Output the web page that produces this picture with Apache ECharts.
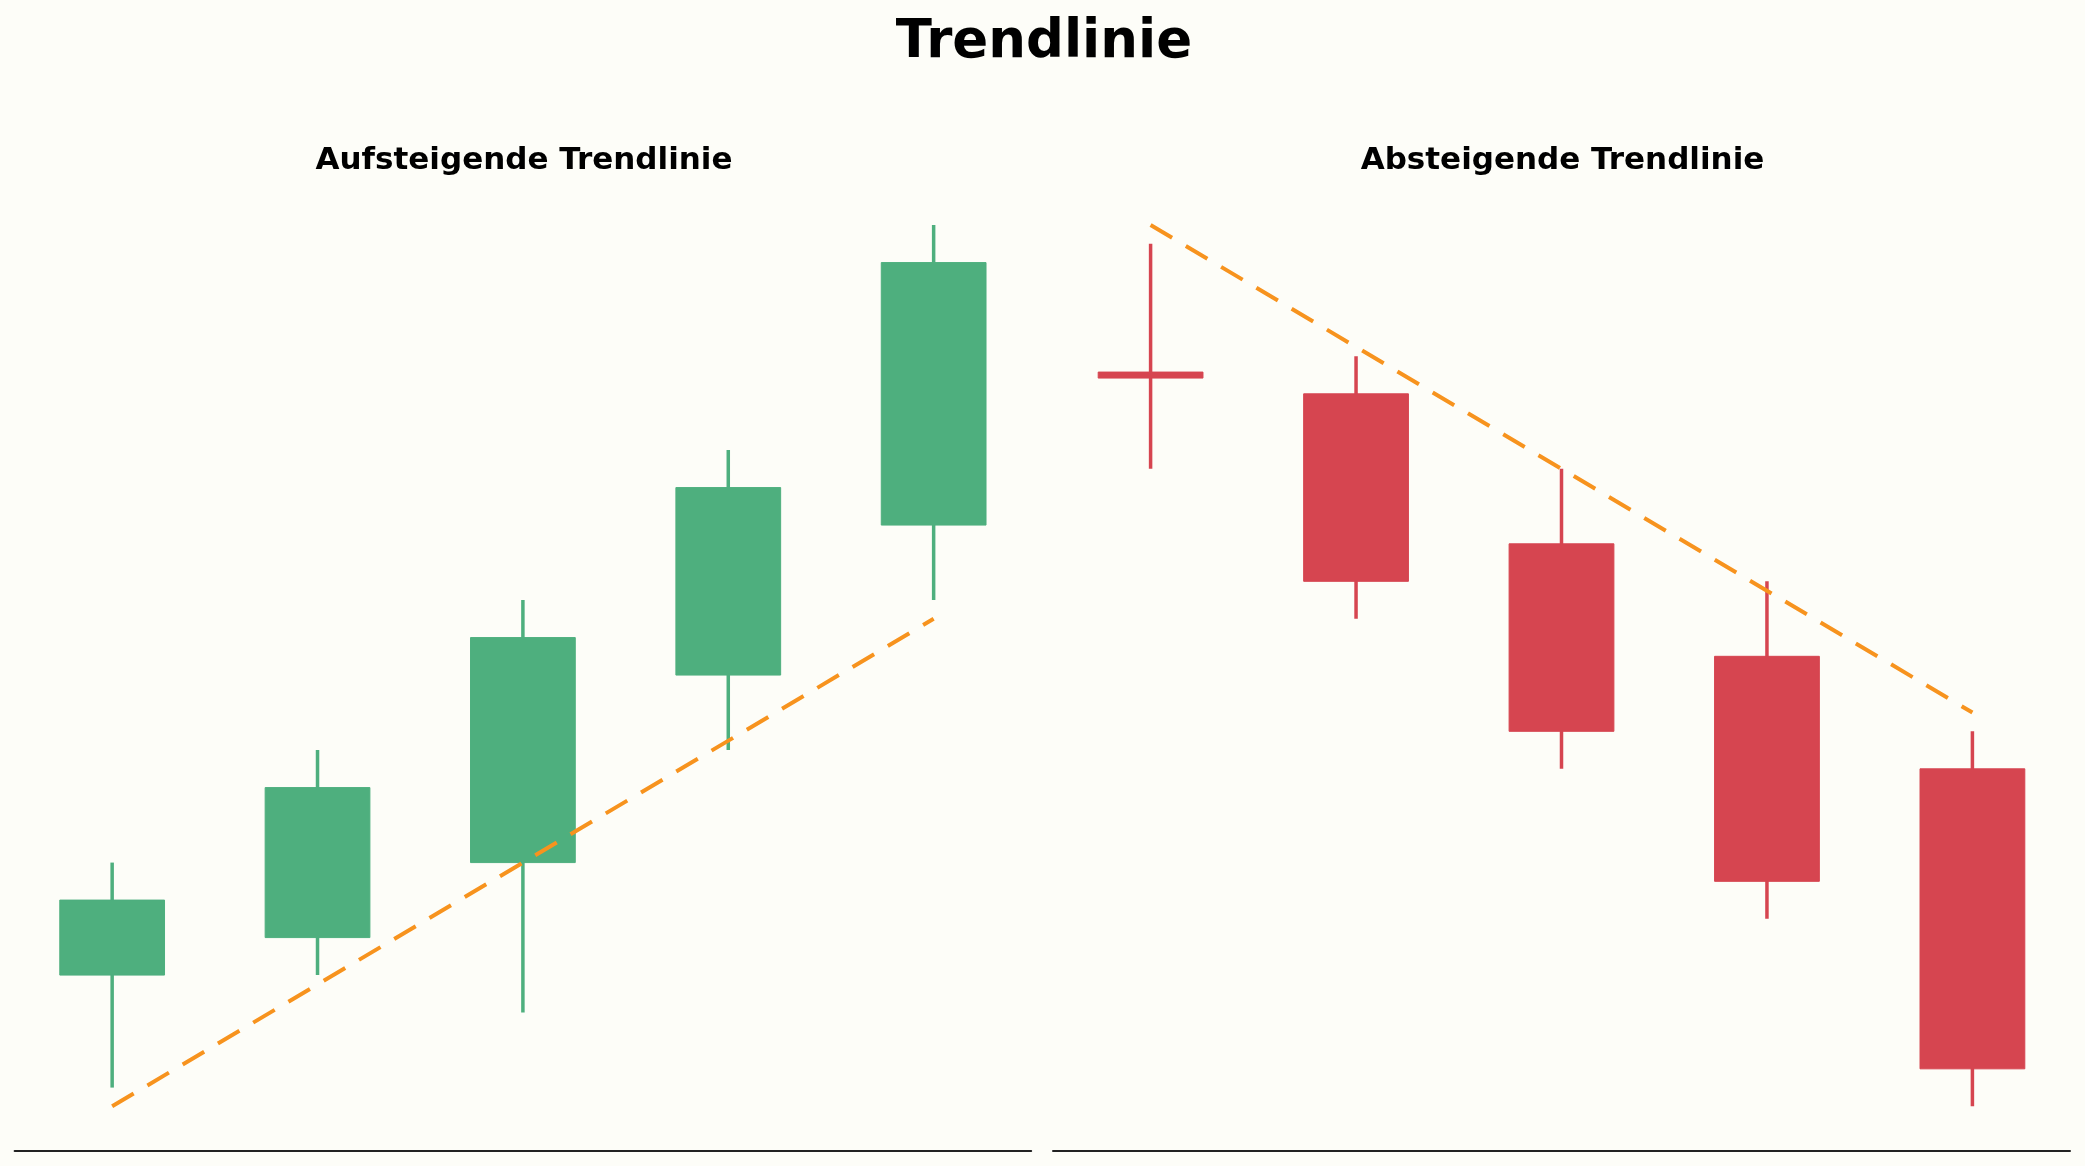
<!DOCTYPE html>
<html>
<head>
<meta charset="utf-8">
<script src="https://cdn.jsdelivr.net/npm/echarts@6/dist/echarts.min.js"></script>
<style>
  html, body { margin: 0; padding: 0; background: #FDFDF8; }
  #chart { width: 2085px; height: 1166px; }
</style>
</head>
<body>
<div id="chart"></div>
<script>
// ---- data ----
const candleIndex = [0, 1, 2, 3, 4];

const upOpen  = [4, 5, 7, 12, 16];
const upClose = [6, 9, 13, 17, 23];
const upLow   = [1, 4, 3, 10, 14];
const upHigh  = [7, 10, 14, 18, 24];

const downOpen  = [20, 19.5, 15.5, 12.5, 9.5];
const downClose = [20, 14.5, 10.5, 6.5, 1.5];
const downLow   = [17.5, 13.5, 9.5, 5.5, 0.5];
const downHigh  = [23.5, 20.5, 17.5, 14.5, 10.5];

const trendX = [0, 4];
const upTrendY = [0.5, 13.5];
const downTrendY = [24, 11];

const mainTitle = 'Trendlinie';
const leftTitle = 'Aufsteigende Trendlinie';
const rightTitle = 'Absteigende Trendlinie';

// ---- styles ----
const GREEN = '#4EAF7E';
const RED = '#D64550';
const ORANGE = '#F7931E';
const BODY_W = 0.51;
const FONT = 'DejaVu Sans';

function buildCandles(o, c, l, h) {
  return candleIndex.map((x, i) => [x, o[i], c[i], l[i], h[i]]);
}
function buildTrend(ys) {
  return trendX.map((x, i) => [x, ys[i]]);
}

function renderCandle(params, api) {
  const x = api.value(0), o = api.value(1), c = api.value(2), l = api.value(3), h = api.value(4);
  const color = c > o ? GREEN : RED;
  const pO = api.coord([x, o]);
  const pC = api.coord([x, c]);
  const pL = api.coord([x, l]);
  const pH = api.coord([x, h]);
  const w = api.size([BODY_W, 0])[0];
  const top = Math.min(pO[1], pC[1]);
  let hgt = Math.abs(pO[1] - pC[1]);
  let y0 = top;
  if (hgt < 6) { y0 = (pO[1] + pC[1]) / 2 - 3; hgt = 6; }
  return {
    type: 'group',
    children: [
      { type: 'line', shape: { x1: pH[0], y1: pH[1], x2: pL[0], y2: pL[1] },
        style: { stroke: color, lineWidth: 3.5 } },
      { type: 'rect', shape: { x: pO[0] - w / 2, y: y0, width: w, height: hgt },
        style: { fill: color, stroke: color, lineWidth: 1 } }
    ]
  };
}

const yMin = -0.675, yMax = 25.175;

const grids = [
  { left: 14.6, top: 181, width: 1016.6, height: 969.4 },
  { left: 1053, top: 181, width: 1017, height: 969.4 }
];

function xAxisFor(gi) {
  return {
    gridIndex: gi, type: 'value', min: -0.475, max: 4.475,
    axisLine: { show: true, onZero: false, lineStyle: { color: '#222222', width: 2 } },
    axisTick: { show: false }, axisLabel: { show: false }, splitLine: { show: false }
  };
}
function yAxisFor(gi) {
  return {
    gridIndex: gi, type: 'value', min: yMin, max: yMax,
    axisLine: { show: false }, axisTick: { show: false }, axisLabel: { show: false }, splitLine: { show: false }
  };
}

function trendSeries(gi, ys) {
  return {
    type: 'line', xAxisIndex: gi, yAxisIndex: gi, data: buildTrend(ys),
    showSymbol: false, symbol: 'none', silent: true,
    lineStyle: { color: ORANGE, width: 4, type: [25, 16], cap: 'butt' },
    z: 5, animation: false
  };
}
function candleSeries(gi, o, c, l, h) {
  return {
    type: 'custom', xAxisIndex: gi, yAxisIndex: gi, data: buildCandles(o, c, l, h),
    encode: { x: 0, y: [1, 2, 3, 4] }, renderItem: renderCandle, animation: false, z: 3
  };
}

const chart = echarts.init(document.getElementById('chart'), null, { renderer: 'canvas' });
chart.setOption({
  backgroundColor: '#FDFDF8',
  animation: false,
  title: [
    { text: mainTitle, left: 1039, textAlign: 'center', top: 12,
      textStyle: { fontFamily: FONT, fontWeight: 'bold', fontSize: 53, color: '#000' } },
    { text: leftTitle, left: 519, textAlign: 'center', top: 140.5,
      textStyle: { fontFamily: FONT, fontWeight: 'bold', fontSize: 31, color: '#000' } },
    { text: rightTitle, left: 1557.5, textAlign: 'center', top: 140.5,
      textStyle: { fontFamily: FONT, fontWeight: 'bold', fontSize: 31, color: '#000' } }
  ],
  grid: grids,
  xAxis: [xAxisFor(0), xAxisFor(1)],
  yAxis: [yAxisFor(0), yAxisFor(1)],
  series: [
    candleSeries(0, upOpen, upClose, upLow, upHigh),
    trendSeries(0, upTrendY),
    candleSeries(1, downOpen, downClose, downLow, downHigh),
    trendSeries(1, downTrendY)
  ]
});
</script>
</body>
</html>
